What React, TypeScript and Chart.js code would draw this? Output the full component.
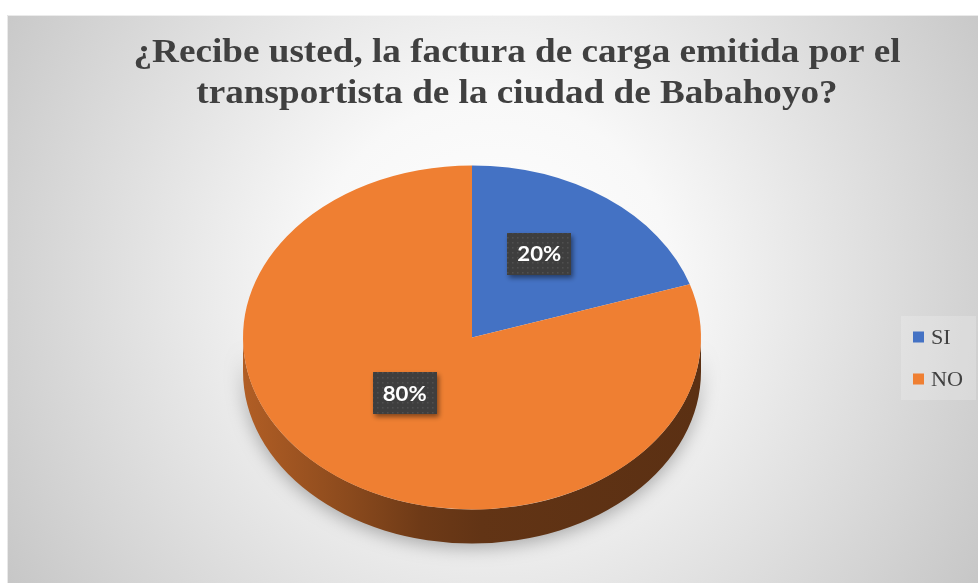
import React, { useEffect, useRef } from "react";
import { Chart, registerables } from "chart.js";

Chart.register(...registerables);

const TITLE_LINES = [
  "¿Recibe usted, la factura de carga emitida por el",
  "transportista de la ciudad de Babahoyo?",
];
const CATEGORIES = ["SI", "NO"];
const VALUES = [20, 80];
const COLORS = ["#4472C4", "#EF7F32"];

const W = 978;
const H = 583;
const TILT = 0.751;
const DEPTH = 34;
const LABEL_LIFT = 14;
const TEXT_STRETCH = 1.11;

function hexToRgb(hex: string) {
  const h = hex.replace("#", "");
  return [0, 2, 4].map((i) => parseInt(h.slice(i, i + 2), 16));
}
function shade(hex: string, f: number) {
  const [r, g, b] = hexToRgb(hex);
  return `rgb(${Math.round(r * f)},${Math.round(g * f)},${Math.round(b * f)})`;
}

function stretchedText(ctx: CanvasRenderingContext2D, text: string, x: number, y: number, sx: number) {
  ctx.save();
  ctx.translate(x, y);
  ctx.scale(sx, 1);
  ctx.fillText(text, 0, 0);
  ctx.restore();
}

let dotPattern: CanvasPattern | null = null;
function getPattern(ctx: CanvasRenderingContext2D) {
  if (dotPattern) return dotPattern;
  const c = document.createElement("canvas");
  c.width = 5;
  c.height = 5;
  const p = c.getContext("2d")!;
  p.fillStyle = "#3e3e3e";
  p.fillRect(0, 0, 5, 5);
  p.fillStyle = "#4f4f4f";
  p.fillRect(2, 2, 1.6, 1.6);
  dotPattern = ctx.createPattern(c, "repeat");
  return dotPattern;
}

const pie3dPlugin = {
  id: "pie3d",
  beforeDraw(chart: any) {
    const ctx: CanvasRenderingContext2D = chart.ctx;
    ctx.save();
    ctx.fillStyle = "#ffffff";
    ctx.fillRect(0, 0, W, H);
    const g = ctx.createRadialGradient(492, 280, 0, 492, 280, 600);
    g.addColorStop(0, "#ffffff");
    g.addColorStop(0.3, "#f8f8f8");
    g.addColorStop(1, "#c3c3c3");
    ctx.fillStyle = g;
    ctx.fillRect(7, 15, W - 7, H - 15);
    ctx.strokeStyle = "rgba(255,255,255,0.6)";
    ctx.lineWidth = 1;
    ctx.beginPath();
    ctx.moveTo(7.5, H);
    ctx.lineTo(7.5, 15.5);
    ctx.lineTo(W, 15.5);
    ctx.stroke();

    // title
    ctx.fillStyle = "#404040";
    ctx.font = 'bold 34px "Liberation Serif", "Times New Roman", serif';
    ctx.textBaseline = "alphabetic";
    ctx.textAlign = "center";
    const w0 = ctx.measureText(TITLE_LINES[0]).width;
    const titleStretch = 767 / w0;
    TITLE_LINES.forEach((t, i) => stretchedText(ctx, t, 517, 62 + i * 41, titleStretch));

    // legend
    ctx.fillStyle = "rgba(255,255,255,0.2)";
    ctx.fillRect(901, 316, 75, 84);
    ctx.font = '20px "Liberation Serif", "Times New Roman", serif';
    ctx.textAlign = "left";
    const labels: string[] = chart.data.labels;
    const colors: string[] = chart.data.datasets[0].backgroundColor;
    labels.forEach((lab, i) => {
      const cy = 337 + i * 42;
      ctx.fillStyle = colors[i];
      ctx.fillRect(913, cy - 5.5, 11, 11);
      ctx.fillStyle = "#404040";
      stretchedText(ctx, lab, 931, cy + 7, TEXT_STRETCH);
    });
    ctx.restore();
  },
  beforeDatasetsDraw(chart: any) {
    const ctx: CanvasRenderingContext2D = chart.ctx;
    const meta = chart.getDatasetMeta(0);
    const first = meta.data[0].getProps(["x", "y", "outerRadius"], true);
    const cx = first.x,
      cy = first.y,
      r = first.outerRadius;
    const colors: string[] = chart.data.datasets[0].backgroundColor;

    // side wall (front-facing half)
    ctx.save();
    meta.data.forEach((arc: any, i: number) => {
      const p = arc.getProps(["startAngle", "endAngle"], true);
      const TAU = Math.PI * 2;
      for (const k of [-1, 0, 1]) {
        const a = Math.max(p.startAngle, k * TAU);
        const b = Math.min(p.endAngle, Math.PI + k * TAU);
        if (b <= a) continue;
        const grad = ctx.createLinearGradient(cx - r, 0, cx + r, 0);
        grad.addColorStop(0, shade(colors[i], 0.74));
        grad.addColorStop(0.23, shade(colors[i], 0.58));
        grad.addColorStop(0.39, shade(colors[i], 0.46));
        grad.addColorStop(0.52, shade(colors[i], 0.41));
        grad.addColorStop(1, shade(colors[i], 0.38));
        ctx.beginPath();
        ctx.ellipse(cx, cy, r, r * TILT, 0, a, b);
        ctx.ellipse(cx, cy + DEPTH, r, r * TILT, 0, b, a, true);
        ctx.closePath();
        ctx.shadowColor = "rgba(0,0,0,0.3)";
        ctx.shadowBlur = 18;
        ctx.shadowOffsetY = 4;
        ctx.fillStyle = grad;
        ctx.fill();
      }
    });
    ctx.restore();

    // tilt the top face
    ctx.save();
    ctx.translate(cx, cy);
    ctx.scale(1, TILT);
    ctx.translate(-cx, -cy);
  },
  afterDatasetsDraw(chart: any) {
    const ctx: CanvasRenderingContext2D = chart.ctx;
    ctx.restore();
    const meta = chart.getDatasetMeta(0);
    const values: number[] = chart.data.datasets[0].data;
    const total = values.reduce((s, v) => s + v, 0);
    ctx.save();
    meta.data.forEach((arc: any, i: number) => {
      const p = arc.getProps(["x", "y", "startAngle", "endAngle", "outerRadius"], true);
      const mid = (p.startAngle + p.endAngle) / 2;
      const x = p.x + Math.cos(mid) * p.outerRadius * 0.5;
      const y = p.y + Math.sin(mid) * p.outerRadius * 0.5 * TILT - LABEL_LIFT;
      const text = Math.round((values[i] / total) * 100) + "%";
      const bw = 64,
        bh = 42;
      ctx.save();
      ctx.shadowColor = "rgba(0,0,0,0.45)";
      ctx.shadowBlur = 5;
      ctx.shadowOffsetX = 2;
      ctx.shadowOffsetY = 3;
      ctx.fillStyle = getPattern(ctx) || "#404040";
      ctx.fillRect(Math.round(x - bw / 2), Math.round(y - bh / 2), bw, bh);
      ctx.restore();
      ctx.fillStyle = "#ffffff";
      ctx.font = 'bold 20px Lato, "Open Sans", sans-serif';
      ctx.textAlign = "center";
      ctx.textBaseline = "middle";
      stretchedText(ctx, text, x, y + 1, TEXT_STRETCH);
    });
    ctx.restore();
  },
};

export default function App() {
  const ref = useRef<HTMLCanvasElement | null>(null);
  useEffect(() => {
    if (!ref.current) return;
    const chart = new Chart(ref.current, {
      type: "pie",
      data: {
        labels: CATEGORIES,
        datasets: [
          {
            data: VALUES,
            backgroundColor: COLORS,
            borderWidth: 0,
          },
        ],
      },
      options: {
        responsive: false,
        animation: false,
        devicePixelRatio: 1,
        layout: { padding: { left: 243, right: 277, top: 100, bottom: 8 } },
        plugins: {
          legend: { display: false },
          title: { display: false },
          tooltip: { enabled: false },
        },
        events: [],
      },
      plugins: [pie3dPlugin],
    });
    return () => chart.destroy();
  }, []);
  return (
    <div style={{ position: "fixed", left: 0, top: 0, width: W, height: H, background: "#fff" }}>
      <canvas ref={ref} width={W} height={H} style={{ display: "block", width: W, height: H }} />
    </div>
  );
}
